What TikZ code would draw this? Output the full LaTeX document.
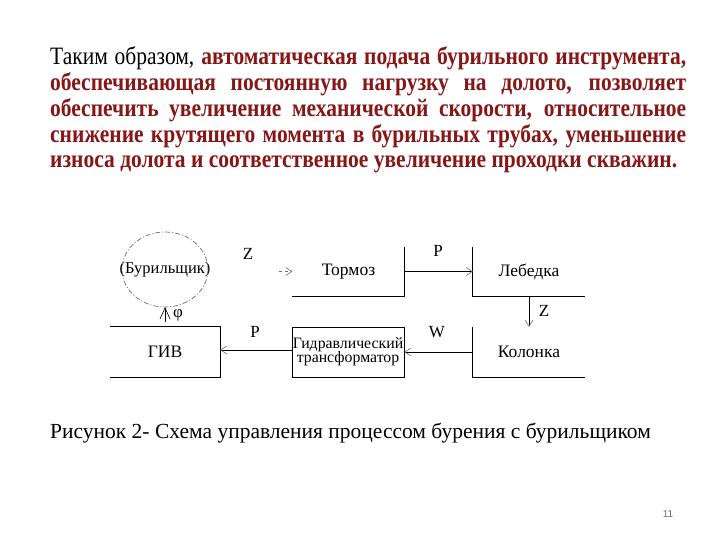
\documentclass[tikz,border=0pt]{standalone}
\usepackage{fontspec}
\setmainfont{Liberation Serif}
\newfontfamily\condfont[FakeStretch=0.86]{Liberation Serif}
\newfontfamily\pnfont{Liberation Sans}
\usetikzlibrary{arrows.meta}
\definecolor{darkred}{RGB}{135,22,22}
\definecolor{tipgray}{RGB}{110,110,110}
\begin{document}
\begin{tikzpicture}[x=1pt,y=-1pt,
  txt/.style={inner sep=0pt, anchor=base west},
  para/.style={font=\condfont\fontsize{25}{26}\selectfont},
  box/.style={inner sep=0pt, minimum width=112pt, minimum height=50pt, font=\fontsize{17.5}{18}\selectfont, align=center},
  lbl/.style={inner sep=0pt, font=\fontsize{17}{18}\selectfont},
  ln/.style={line width=0.9pt},
  arr/.style={ln, -{Straight Barb[length=6pt,width=8pt,line width=0.6pt,color=tipgray]}},
]
\useasboundingbox (0,0) rectangle (720,540);
\fill[white] (0,0) rectangle (720,540);

% paragraph
\node[txt,para] (l1) at (50,65) {\makebox[636pt][s]{Таким образом, \color{darkred}\bfseries автоматическая подача бурильного инструмента,}};
\node[txt,para] (l2) at (50,91) {\makebox[636pt][s]{\color{darkred}\bfseries обеспечивающая постоянную нагрузку на долото, позволяет}};
\node[txt,para] (l3) at (50,117) {\makebox[636pt][s]{\color{darkred}\bfseries обеспечить увеличение механической скорости, относительное}};
\node[txt,para] (l4) at (50,143) {\makebox[636pt][s]{\color{darkred}\bfseries снижение крутящего момента в бурильных трубах, уменьшение}};
\node[txt,para] (l5) at (50,168) {\color{darkred}\bfseries износа долота и соответственное увеличение проходки скважин.};

% diagram
\node[inner sep=0pt, minimum width=86pt, minimum height=75pt, font=\fontsize{16.5}{17}\selectfont] (bur) at (165,269.5) {(Бурильщик)};
\draw[draw=tipgray, dash pattern=on 5pt off 2pt on 1pt off 2pt, line width=0.7pt] (bur.center) ellipse [x radius=43, y radius=37.5];
\node[box, minimum height=49pt] (tormoz) at (348.5,271.5) {Тормоз};
\node[box, minimum height=49pt] (lebedka) at (529,271.5) {Лебедка};
\node[box] (kolonka) at (529,352) {Колонка};
\node[box, draw, ln, font=\fontsize{15.8}{16.5}\selectfont] (gidr) at (348,352) {Гидравлический\\[-2pt]трансформатор};
\node[box, minimum width=110pt] (giv) at (165,352) {ГИВ};

\draw[ln] (tormoz.north east) -- (tormoz.south east) -- (tormoz.south west);
\draw[ln] (lebedka.north west) -- (lebedka.south west) -- (lebedka.south east);
\draw[ln] (kolonka.north west) -- (kolonka.south west) -- (kolonka.south east);
\draw[ln] (giv.north west) -- (giv.north east) -- (giv.south east) -- (giv.south west);

\coordinate (zs) at (279,271.5);
\coordinate (phis) at (165,322);
\draw[arr] (tormoz.east) -- (lebedka.west);
\draw[arr] (lebedka.south) -- (kolonka.north);
\draw[arr] (kolonka.west) -- (gidr.east);
\draw[arr] ([yshift=2pt]gidr.west) -- ([yshift=2pt]giv.east);
\draw[arr, draw=tipgray, dashed, line width=0.6pt] (zs) -- (tormoz.west);
\draw[-{Straight Barb[length=11pt,width=10pt,line width=0.6pt,color=black]}, line width=0.6pt] (phis) -- (bur.south);

\node[lbl] (lz1) at (248,254) {Z};
\node[lbl] (lp1) at (438,251) {P};
\node[lbl] (lz2) at (544,311) {Z};
\node[lbl] (lw) at (437,332) {W};
\node[lbl] (lp2) at (255,332) {P};
\node[lbl] (lphi) at (178,315) {φ};

% caption
\node[txt, font=\fontsize{21.5}{22}\selectfont] (cap) at (50,438) {Рисунок 2- Схема управления процессом бурения с бурильщиком};
\node[inner sep=0pt, font=\pnfont\fontsize{10}{11}\selectfont, text=tipgray] (pn) at (668,514) {11};
\end{tikzpicture}
\end{document}
